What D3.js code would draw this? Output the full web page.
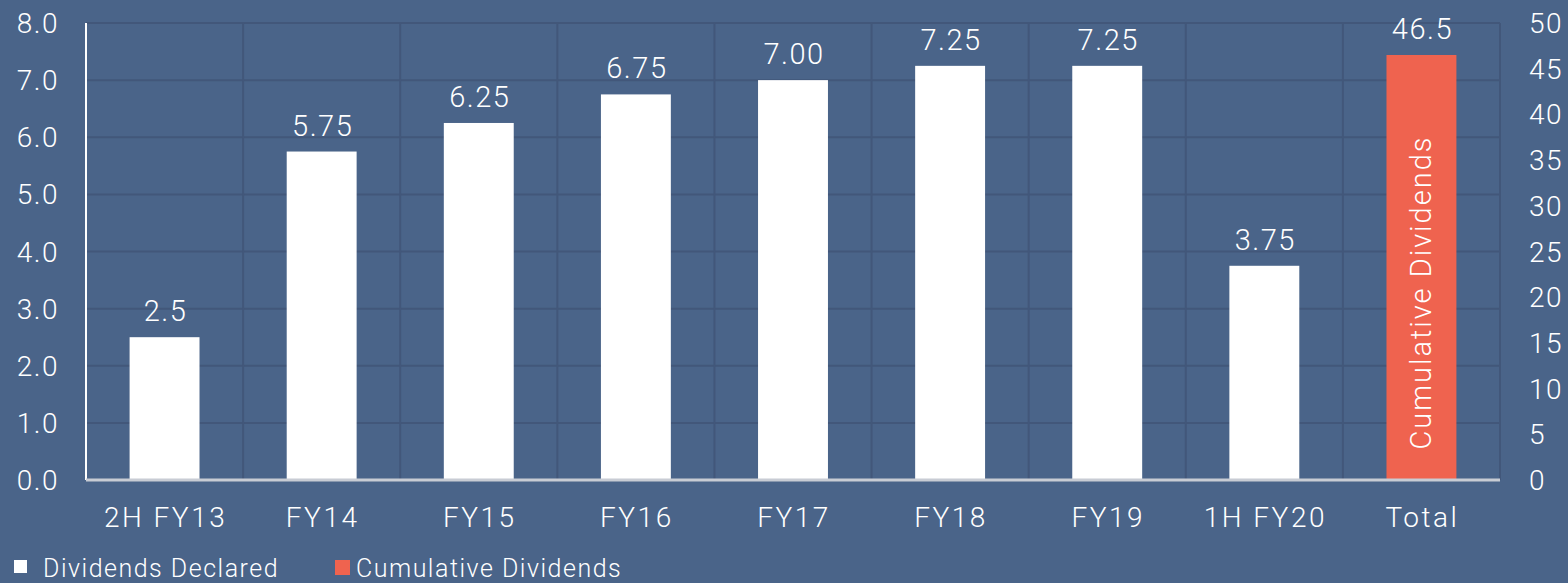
<!DOCTYPE html>
<html>
<head>
<meta charset="utf-8">
<script src="https://cdn.jsdelivr.net/npm/d3@7"></script>
<style>
  body { margin: 0; background: #4a6489; }
  text { font-family: Roboto, "Liberation Sans", sans-serif; font-weight: 300; fill: #fff; }
</style>
</head>
<body>
<svg id="chart" width="1568" height="583"></svg>
<script>
// data
var categories = ["2H FY13", "FY14", "FY15", "FY16", "FY17", "FY18", "FY19", "1H FY20", "Total"];
var declared = [2.5, 5.75, 6.25, 6.75, 7.00, 7.25, 7.25, 3.75, null];
var declaredLabels = ["2.5", "5.75", "6.25", "6.75", "7.00", "7.25", "7.25", "3.75"];
var cumulative = 46.5;
var leftTicks = [0, 1, 2, 3, 4, 5, 6, 7, 8];
var rightTicks = [0, 5, 10, 15, 20, 25, 30, 35, 40, 45, 50];

var svg = d3.select("#chart"),
  width = +svg.attr("width"),
  height = +svg.attr("height");

var margin = {left: 86, right: 68, top: 23, bottom: 103};
var x0 = margin.left, x1 = width - margin.right;
var y0 = height - margin.bottom, y1 = margin.top;

var x = d3.scaleBand().domain(categories).range([x0, x1]).paddingInner(0).paddingOuter(0);
var yL = d3.scaleLinear().domain([0, 8]).range([y0, y1]);
var yR = d3.scaleLinear().domain([0, 50]).range([y0, y1]);

var gridColor = "#42577a";
var barW = x.bandwidth() * 0.445;

// horizontal grid
svg.append("g").selectAll("line")
  .data(leftTicks.slice(1))
  .enter().append("line")
  .attr("x1", x0).attr("x2", x1)
  .attr("y1", d => yL(d)).attr("y2", d => yL(d))
  .attr("stroke", gridColor).attr("stroke-width", 2);

// vertical grid at category boundaries
svg.append("g").selectAll("line")
  .data(categories.slice(1).concat(["end"]))
  .enter().append("line")
  .attr("x1", (d, i) => x0 + (i + 1) * x.bandwidth())
  .attr("x2", (d, i) => x0 + (i + 1) * x.bandwidth())
  .attr("y1", y1).attr("y2", y0)
  .attr("stroke", gridColor).attr("stroke-width", 2);

// white bars
var bars = categories.slice(0, 8).map((c, i) => ({c: c, v: declared[i], l: declaredLabels[i]}));
svg.append("g").selectAll("rect")
  .data(bars)
  .enter().append("rect")
  .attr("x", d => x(d.c) + (x.bandwidth() - barW) / 2)
  .attr("width", barW)
  .attr("y", d => yL(d.v))
  .attr("height", d => y0 - yL(d.v))
  .attr("fill", "#ffffff");

svg.append("g").selectAll("text")
  .data(bars)
  .enter().append("text")
  .attr("x", d => x(d.c) + x.bandwidth() / 2 + 1)
  .attr("y", d => yL(d.v) - 16)
  .attr("text-anchor", "middle")
  .attr("font-size", 29)
  .attr("letter-spacing", 1.5)
  .text(d => d.l);

// cumulative bar
var tx = x("Total") + (x.bandwidth() - barW) / 2;
svg.append("rect")
  .attr("x", tx).attr("width", barW)
  .attr("y", yR(cumulative)).attr("height", y0 - yR(cumulative))
  .attr("fill", "#ef634f");
svg.append("text")
  .attr("x", x("Total") + x.bandwidth() / 2 + 1)
  .attr("y", yR(cumulative) - 16)
  .attr("text-anchor", "middle")
  .attr("font-size", 29)
  .attr("letter-spacing", 1.5)
  .text("46.5");
svg.append("text")
  .attr("transform", "translate(" + (x("Total") + x.bandwidth() / 2 + 10) + "," + ((yR(cumulative) + y0) / 2 + 25) + ") rotate(-90)")
  .attr("text-anchor", "middle")
  .attr("font-size", 29)
  .attr("letter-spacing", 2)
  .text("Cumulative Dividends");

// axes lines
svg.append("line").attr("x1", x0).attr("x2", x0).attr("y1", y1).attr("y2", y0)
  .attr("stroke", "#ffffff").attr("stroke-width", 2);
svg.append("line").attr("x1", x0).attr("x2", x1).attr("y1", y0).attr("y2", y0)
  .attr("stroke", "#c8ccd4").attr("stroke-width", 3);

// left tick labels
svg.append("g").selectAll("text")
  .data(leftTicks)
  .enter().append("text")
  .attr("x", 59).attr("y", d => yL(d) + 10)
  .attr("text-anchor", "end")
  .attr("font-size", 28)
  .attr("letter-spacing", 1.5)
  .text(d => d3.format(".1f")(d));

// right tick labels
svg.append("g").selectAll("text")
  .data(rightTicks)
  .enter().append("text")
  .attr("x", 1529).attr("y", d => yR(d) + 10)
  .attr("text-anchor", "start")
  .attr("font-size", 28)
  .attr("letter-spacing", 1.5)
  .text(d => d);

// category labels
svg.append("g").selectAll("text")
  .data(categories)
  .enter().append("text")
  .attr("x", d => x(d) + x.bandwidth() / 2 + 1)
  .attr("y", 527)
  .attr("text-anchor", "middle")
  .attr("font-size", 28)
  .attr("letter-spacing", 2.5)
  .text(d => d);

// legend
svg.append("rect").attr("x", 14).attr("y", 560).attr("width", 13).attr("height", 13).attr("fill", "#fff");
svg.append("text").attr("x", 43).attr("y", 577).attr("font-size", 25).attr("letter-spacing", 1.5).text("Dividends Declared");
svg.append("rect").attr("x", 335).attr("y", 560).attr("width", 15).attr("height", 15).attr("fill", "#ef634f");
svg.append("text").attr("x", 356).attr("y", 577).attr("font-size", 25).attr("letter-spacing", 1.5).text("Cumulative Dividends");
</script>
</body>
</html>
